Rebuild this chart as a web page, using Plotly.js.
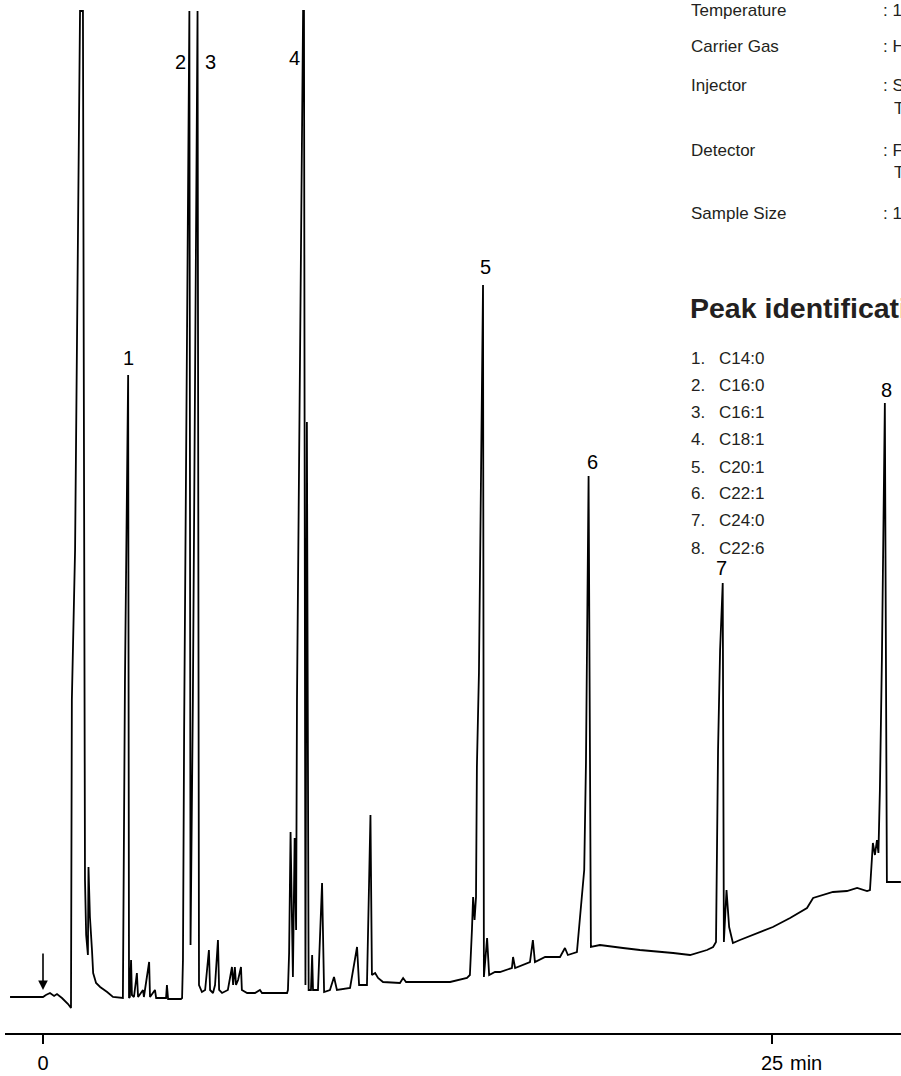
<!DOCTYPE html>
<html>
<head>
<meta charset="utf-8">
<script src="https://cdn.plot.ly/plotly-3.0.1.min.js"></script>
<style>
  html, body { margin: 0; padding: 0; background: #ffffff; }
  #chart { width: 901px; height: 1076px; }
</style>
</head>
<body>
<div id="chart"></div>
<script>
// Retention time (min) and detector response (arbitrary units)
const times = [
  -1.13, 0.00, 0.10, 0.24, 0.38, 0.48, 0.65, 0.86, 0.96,
  0.99, 1.10, 1.27, 1.37, 1.41, 1.44, 1.48, 1.54, 1.56, 1.61, 1.68, 1.72, 1.82, 1.96, 2.20, 2.40,
  2.74, 2.81, 2.92, 2.95, 2.98, 3.02, 3.05, 3.12, 3.22, 3.26, 3.43, 3.46, 3.64, 3.67, 3.84, 3.88,
  4.22, 4.25, 4.29, 4.73,
  4.77, 4.80, 4.84, 5.02, 5.06, 5.14, 5.30, 5.35,
  5.45, 5.56, 5.69, 5.73, 5.83, 5.90, 6.00, 6.04, 6.14, 6.34, 6.48, 6.52, 6.58, 6.62, 6.69, 6.79, 6.82,
  7.00, 7.27, 7.44, 7.51, 8.37,
  8.40, 8.44, 8.49, 8.54, 8.57, 8.63, 8.68, 8.71, 8.92, 8.95, 9.00, 9.05, 9.11,
  9.19, 9.23, 9.26, 9.43, 9.57, 9.64, 9.84, 9.98, 10.08, 10.53, 10.77, 10.84, 11.11, 11.23, 11.28,
  11.39, 11.49, 11.66, 12.24, 12.35, 12.45, 13.27, 13.96, 14.54,
  14.64, 14.71, 14.75, 14.80, 14.85, 14.88, 14.95, 15.09, 15.12, 15.23, 15.30, 15.50, 15.67,
  16.08, 16.12, 16.19, 16.70, 16.80, 16.87, 17.22, 17.73, 17.90, 18.00, 18.31,
  18.42, 18.56, 18.62, 18.71, 18.79, 19.10, 19.89, 20.47, 21.61, 22.19, 22.77, 22.98,
  23.08, 23.15, 23.22, 23.31, 23.35, 23.44, 23.53, 23.66, 23.90, 24.49, 25.03, 25.62,
  26.20, 26.41, 26.75, 27.09, 27.57, 27.92, 28.26,
  28.36, 28.46, 28.53, 28.60, 28.65, 28.70, 28.77, 28.87, 28.94, 29.42
];
const signal = [
  0, 0, 2, 4, 1, 3, -1, -7, -11,
  297, 447, 986, 986, 447, 117, 62, 42, 130, 80, 47, 24, 14, 10, 5, 0,
  -1, 314, 622, -1, 0, 37, 2, 0, 24, 0, 7, 0, 35, 0, 7, -1,
  -1, 12, -2, -2,
  -1, 37, 267, 986, 52, 297, 986, 12,
  5, 7, 47, 7, 4, 12, 57, 7, 4, 7, 30, 12, 30, 12, 17, 30, 7,
  4, 4, 7, 4, 4,
  7, 44, 165, 47, 20, 159, 67, 297, 986, 986, 12, 575, 7,
  7, 42, 7, 7, 114, 5, 7, 20, 7, 9, 50, 12, 12, 182, 22,
  24, 19, 15, 14, 19, 15, 15, 15, 19,
  22, 67, 100, 77, 100, 230, 324, 712, 20, 59, 22, 25, 25,
  29, 40, 29, 35, 57, 35, 40, 40, 49, 42, 45,
  80, 127, 234, 521, 50, 52, 49, 47, 44, 42, 47, 50,
  55, 247, 347, 414, 55, 107, 70, 54, 57, 64, 70, 79,
  89, 99, 102, 105, 106, 109, 106,
  107, 154, 142, 157, 144, 207, 340, 594, 115, 115
];

// Peak numbers and identification
const peakNumbers = ['1', '2', '3', '4', '5', '6', '7', '8'];
const peakNames = ['C14:0', 'C16:0', 'C16:1', 'C18:1', 'C20:1', 'C22:1', 'C24:0', 'C22:6'];

// Axis ticks
const tickValues = [0, 25];
const tickLabels = ['0', '25'];
const timeUnit = 'min';

// Conditions block (text visible in the picture)
const conditionLabels = ['Temperature', 'Carrier Gas', 'Injector', '', 'Detector', '', 'Sample Size'];
const conditionValues = [': 1', ': H', ': S', 'T', ': F', 'T', ': 1'];
const idTitle = 'Peak identification';

// ---------- layout helpers (positions only) ----------
const W = 901, H = 1076;
const M = { l: 5, r: 0, t: 10, b: 43 };
const plotW = W - M.l - M.r, plotH = H - M.t - M.b;
const px = x => (x - M.l) / plotW;          // page x -> paper
const py = y => (H - M.b - y) / plotH;      // page y -> paper

const txtFont = { family: 'Liberation Sans, Arial, sans-serif', size: 17, color: '#231f20' };
const lblFont = { family: 'Liberation Sans, Arial, sans-serif', size: 20, color: '#000000' };

const annotations = [];

// peak number labels (data coordinates)
const peakLabelPos = [
  [2.915, 639], [4.70, 935], [5.73, 935], [8.64, 939],
  [15.16, 730], [18.86, 535], [23.28, 429], [28.91, 607]
];
peakNumbers.forEach((n, i) => {
  annotations.push({
    x: peakLabelPos[i][0], y: peakLabelPos[i][1], xref: 'x', yref: 'y',
    text: n, showarrow: false, font: lblFont, xanchor: 'center', yanchor: 'middle'
  });
});

// injection arrow
annotations.push({
  x: 0, y: 7, xref: 'x', yref: 'y', text: '', showarrow: true,
  ax: 0, ay: -38, arrowhead: 2, arrowsize: 1.2, arrowwidth: 1.6, arrowcolor: '#000'
});

// "min" after the 25 tick label
annotations.push({
  x: 25, y: py(1063), xref: 'x', yref: 'paper', text: timeUnit, showarrow: false,
  font: lblFont, xanchor: 'left', yanchor: 'middle', xshift: 16
});

// conditions block
const condRows = [10, 47, 85, 108, 150, 173, 213];
conditionLabels.forEach((t, i) => {
  if (t) annotations.push({
    x: px(689), y: py(condRows[i]), xref: 'paper', yref: 'paper', text: t,
    showarrow: false, font: txtFont, xanchor: 'left', yanchor: 'middle'
  });
  const isCont = conditionValues[i].indexOf(':') < 0;
  annotations.push({
    x: px(isCont ? 892 : 881), y: py(condRows[i]), xref: 'paper', yref: 'paper',
    text: conditionValues[i], showarrow: false, font: txtFont, xanchor: 'left', yanchor: 'middle'
  });
});

// peak identification heading
annotations.push({
  x: px(688), y: py(308), xref: 'paper', yref: 'paper', text: '<b>' + idTitle + '</b>',
  showarrow: false, font: { family: 'Liberation Sans, Arial, sans-serif', size: 28.5, color: '#231f20' },
  xanchor: 'left', yanchor: 'middle'
});

// peak identification list
const listRows = [358, 385, 412, 440, 467, 493, 520, 548];
peakNames.forEach((nm, i) => {
  annotations.push({
    x: px(689), y: py(listRows[i]), xref: 'paper', yref: 'paper', text: peakNumbers[i] + '.',
    showarrow: false, font: txtFont, xanchor: 'left', yanchor: 'middle'
  });
  annotations.push({
    x: px(717), y: py(listRows[i]), xref: 'paper', yref: 'paper', text: nm,
    showarrow: false, font: txtFont, xanchor: 'left', yanchor: 'middle'
  });
});

const trace = {
  x: times, y: signal, type: 'scatter', mode: 'lines',
  line: { color: '#000000', width: 1.8 }, hoverinfo: 'skip'
};

const layout = {
  width: W, height: H,
  margin: M,
  paper_bgcolor: '#ffffff', plot_bgcolor: '#ffffff',
  showlegend: false,
  xaxis: {
    range: [-1.303, 29.424], showgrid: false, zeroline: false,
    showline: true, linecolor: '#000', linewidth: 2,
    ticks: 'outside', ticklen: 9, tickwidth: 1.5, tickcolor: '#000',
    tickvals: tickValues, ticktext: tickLabels, tickfont: lblFont,
    ticklabelstandoff: 2, fixedrange: true
  },
  yaxis: {
    range: [-36, 987], visible: false, showgrid: false, zeroline: false, fixedrange: true
  },
  annotations: annotations
};

Plotly.newPlot('chart', [trace], layout, { staticPlot: true, displayModeBar: false });
</script>
</body>
</html>
